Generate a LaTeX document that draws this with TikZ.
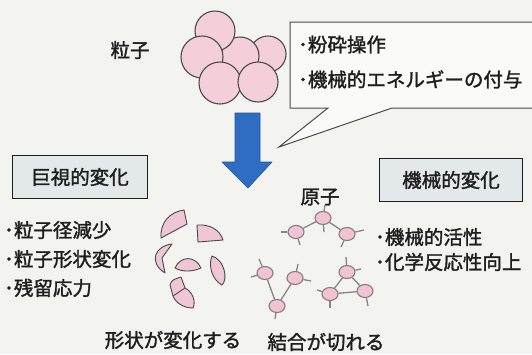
\documentclass[tikz,border=0pt]{standalone}
\usepackage{fontspec}
\usepackage{xcolor}
\usepackage{tikz}
\usetikzlibrary{shapes.geometric, positioning}
\newfontfamily\jp[FakeBold=1.6]{Noto Sans CJK JP}
\definecolor{paper}{HTML}{F3F4F0}
\definecolor{ink}{HTML}{1E1E1E}
\definecolor{outline}{HTML}{4A4A4A}
\definecolor{grainpink}{HTML}{F4CFDA}
\definecolor{shardpink}{HTML}{F0C6D6}
\definecolor{atompink}{HTML}{F1C3D3}
\definecolor{atomedge}{HTML}{8A7A80}
\definecolor{bondgray}{HTML}{858585}
\definecolor{boxfill}{HTML}{E3E9EA}
\definecolor{pressblue}{HTML}{2F6DC2}
\definecolor{pressedge}{HTML}{1F55A3}

\begin{document}
\begin{tikzpicture}[x=1pt, y=-1pt,
    grain/.style={circle, draw=outline, line width=1.1pt, fill=grainpink, minimum size=#1, inner sep=0pt},
    shard/.style={draw=outline, line width=0.9pt, fill=shardpink, line join=round},
    atom/.style={ellipse, draw=atomedge, line width=1.1pt, fill=atompink, minimum width=16pt, minimum height=13pt, inner sep=0pt},
    bond/.style={draw=bondgray, line width=1.3pt},
    jtext/.style={font=\jp\fontsize{19.5}{23}\selectfont, text=ink, inner sep=0pt},
    headbox/.style={draw=ink, line width=1.8pt, fill=boxfill, jtext, minimum height=43pt},
]
    \useasboundingbox[fill=paper] (0,0) rectangle (532,354);

    % Particle cluster
    \node[grain=36pt] (g6) at (268,54) {};
    \node[grain=38pt] (g3) at (240,56) {};
    \node[grain=40pt] (g1) at (215,31) {};
    \node[grain=42pt] (g2) at (202,57) {};
    \node[grain=42pt] (g4) at (220,83) {};
    \node[grain=40pt] (g5) at (258,82) {};
    \node[jtext] (grain) at (130,50) {粒子};

    % Callout with the operation
    \draw[outline, line width=1pt, fill=white!60!paper]
        (290,22) -- (545,22) -- (545,108) -- (392,108) -- (279,147)
        -- (328,108) -- (290,108) -- cycle;
    \node[jtext, align=left, anchor=west,
          font=\jp\fontsize{19.5}{35}\selectfont] (ops) at (298,62) {･粉砕操作\\･機械的エネルギーの付与};

    % Big arrow down
    \fill[pressblue, draw=pressedge, line width=0.6pt, line join=round]
        (235,113) -- (260,113) -- (260,162) -- (272,162) -- (248,188)
        -- (222,162) -- (235,162) -- cycle;

    % Macroscopic side
    \node[headbox, minimum width=135pt] (macro) at (80,177) {巨視的変化};
    \node[jtext, align=left, anchor=west,
          font=\jp\fontsize{19.5}{29}\selectfont] (macrolist) at (4,259) {･粒子径減少\\･粒子形状変化\\･残留応力};

    % broken fragments
    \draw[shard] (161,238) .. controls (160,222) and (170,212) .. (184,210) -- (187,224) -- cycle;
    \draw[shard] (197,225) -- (198,242) -- (223,240) .. controls (220,230) and (210,224) .. (197,225);
    \draw[shard] (172,244) .. controls (155,246) and (148,262) .. (165,273) -- (162,258) -- cycle;
    \draw[shard] (175,268) .. controls (180,256) and (195,255) .. (201,268)
        .. controls (192,272) and (182,272) .. cycle;
    \draw[shard] (212,256) .. controls (225,260) and (228,280) .. (222,285)
        .. controls (212,280) and (208,265) .. cycle;
    \draw[shard] (170,285) .. controls (172,280) .. (181,277) -- (185,288)
        .. controls (193,292) and (196,302) .. (193,308)
        .. controls (183,308) and (175,302) .. (173,296) -- cycle;
    \draw[outline, line width=0.9pt] (173,296) -- (185,288);
    \node[jtext] (shape) at (173,340) {形状が変化する};

    % Mechanochemical side
    \node[headbox, minimum width=143pt] (mech) at (451,180) {機械的変化};
    \node[jtext, align=left, anchor=west,
          font=\jp\fontsize{19.5}{25}\selectfont] (mechlist) at (375,249.5) {･機械的活性\\･化学反応性向上};
    \node[jtext] (atomlbl) at (320,197) {原子};

    % atoms
    \node[atom] (a1) at (296,232) {};
    \node[atom] (a2) at (323,218) {};
    \node[atom] (a3) at (347,234) {};
    \node[atom] (a4) at (265,273) {};
    \node[atom] (a5) at (295,278) {};
    \node[atom] (a6) at (277,306) {};
    \node[atom] (a7) at (347,272) {};
    \node[atom] (a8) at (330,294) {};
    \node[atom] (a9) at (365,291) {};

    % bonds, then the cut ends
    \foreach \p/\q in {a1/a2, a2/a3, a4/a6, a5/a6, a7/a8, a7/a9, a8/a9}
        \draw[bond] (\p) -- (\q);
    \foreach \n/\dx/\dy in {a1/-15/0, a1/4/13, a2/2/-13, a2/1/14, a3/17/-4, a3/-6/13,
                            a4/-6/-14, a4/-14/4, a5/3/-14, a5/16/3, a6/-2/13,
                            a7/-1/-15, a7/14/-3, a8/-13/-4, a8/0/14, a9/3/15}
        \draw[bond] (\n) -- ++(\dx,\dy);
    \node[jtext] (cut) at (326,342) {結合が切れる};
\end{tikzpicture}
\end{document}
